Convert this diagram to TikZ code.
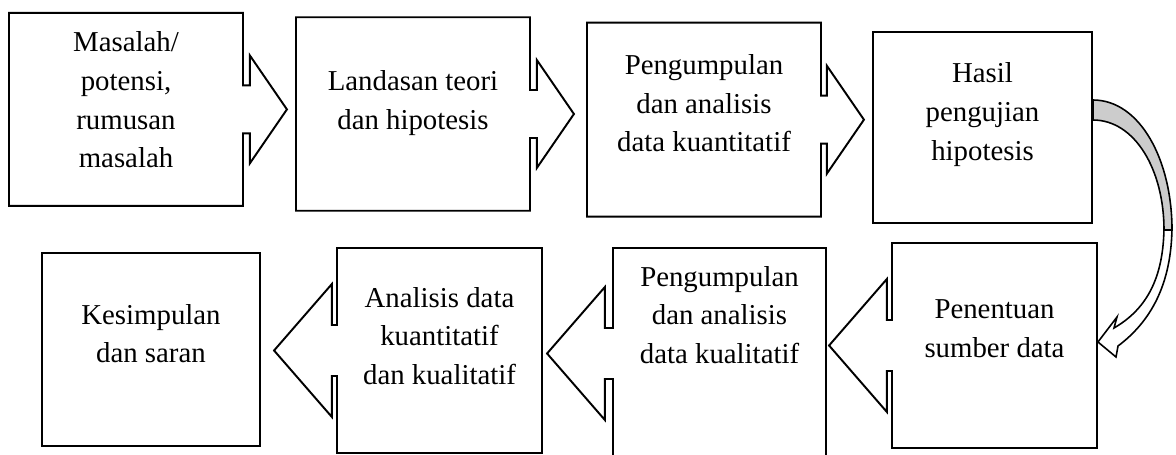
\documentclass[tikz,border=0pt]{standalone}
\usepackage{fontspec}
\setmainfont{Liberation Serif}
\usetikzlibrary{shapes.arrows,positioning}

\begin{document}
\begin{tikzpicture}[x=0.02cm,y=-0.02cm,line width=1.1pt,
    plain box/.style={draw,rectangle,inner sep=0pt},
    right box/.style={draw,arrow box,inner sep=0pt,arrow box tip angle=111,
        arrow box head extend=0.6cm,arrow box shaft width=0.96cm},
    left box/.style={draw,arrow box,inner sep=0pt,arrow box tip angle=98,
        arrow box head extend=0.82cm,arrow box shaft width=1.02cm},
    box text/.style={align=center,inner sep=0pt,font=\fontsize{16.4}{22.1}\selectfont}]

    \useasboundingbox (0,0) rectangle (1176,455);

    % Define boxes
    \node[right box,minimum width=4.68cm,minimum height=3.86cm,arrow box arrows={east:0.86cm}] (1) at (126,109.4) {};
    \node[right box,minimum width=4.68cm,minimum height=3.87cm,arrow box arrows={east:0.86cm}] (2) at (413,114) {};
    \node[right box,minimum width=4.68cm,minimum height=3.88cm,arrow box arrows={east:0.84cm}] (3) at (704,119.7) {};
    \node[plain box,minimum width=4.38cm,minimum height=3.82cm] (4) at (982.5,127.5) {};
    \node[left box,minimum width=4.1cm,minimum height=4.1cm,arrow box arrows={west:1.24cm}] (5) at (994.5,345.5) {};
    \node[left box,minimum width=4.26cm,minimum height=4.22cm,arrow box arrows={west:1.3cm}] (6) at (719.5,353.5) {};
    \node[left box,minimum width=4.1cm,minimum height=4.1cm,arrow box arrows={west:1.24cm}] (7) at (439.5,350.5) {};
    \node[plain box,minimum width=4.36cm,minimum height=3.86cm] (8) at (151,349.5) {};

    % Texts
    \node[box text] (t1) [below=0.37cm of 1.north] {Masalah/\\potensi,\\rumusan\\masalah};
    \node[box text] (t2) [below=1.07cm of 2.north] {Landasan teori\\dan hipotesis};
    \node[box text] (t3) [below=0.63cm of 3.north] {Pengumpulan\\dan analisis\\data kuantitatif};
    \node[box text] (t4) [below=0.62cm of 4.north] {Hasil\\pengujian\\hipotesis};
    \node[box text] (t5) [below=1.14cm of 5.north] {Penentuan\\sumber data};
    \node[box text] (t6) [below=0.36cm of 6.north] {Pengumpulan\\dan analisis\\data kualitatif};
    \node[box text] (t7) [below=0.78cm of 7.north] {Analisis data\\kuantitatif\\dan kualitatif};
    \node[box text] (t8) [below=1.02cm of 8.north] {Kesimpulan\\dan saran};

    % Curved arrow from 4 to 5
    \coordinate (c1) at ([yshift=0.55cm]4.east);
    \coordinate (c2) at ([yshift=0.15cm]4.east);
    \coordinate (c3) at ([yshift=0.07cm]5.east);
    \draw[line width=0.9pt,fill=white] (1172,225) .. controls (1172,285) and (1150,322) .. (1118,346)
        -- (1116,357) -- (c3) -- (1117,317) -- (1114,328)
        .. controls (1145,310) and (1164,280) .. (1164,225) -- cycle;
    \draw[line width=0.9pt,fill=gray!40] (c1) .. controls (1140,100) and (1172,160) .. (1172,230)
        -- (1164,230) .. controls (1164,170) and (1135,120) .. (c2) -- cycle;

\end{tikzpicture}
\end{document}
